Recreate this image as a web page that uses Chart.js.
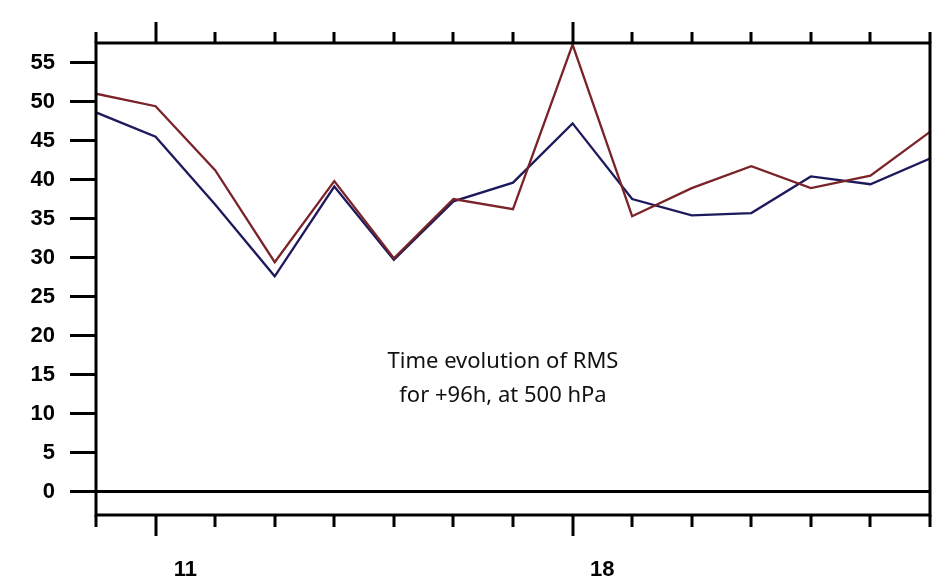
<!DOCTYPE html>
<html>
<head>
<meta charset="utf-8">
<script src="https://cdn.jsdelivr.net/npm/chart.js@4/dist/chart.umd.min.js"></script>
<style>
  html, body { margin: 0; padding: 0; background: #fff; }
  #wrap { width: 933px; height: 577px; }
</style>
</head>
<body>
<div id="wrap"><canvas id="rms"></canvas></div>
<script>
// days on the x axis, one value per day
days = [10, 11, 12, 13, 14, 15, 16, 17, 18, 19, 20, 21, 22, 23, 24]
rmsRed = [51.0, 49.4, 41.2, 29.4, 39.8, 29.9, 37.5, 36.2, 57.3, 35.3, 38.9, 41.7, 38.9, 40.5, 46.1]
rmsBlue = [48.6, 45.5, 36.8, 27.6, 39.1, 29.7, 37.2, 39.6, 47.2, 37.5, 35.4, 35.7, 40.4, 39.4, 42.7]
yTicks = [0, 5, 10, 15, 20, 25, 30, 35, 40, 45, 50, 55]
majorDays = [11, 18]
titleLines = ['Time evolution of RMS', 'for +96h, at 500 hPa']

function toPoints(valores) {
	return days.map(function (d, i) {
		return { x: d, y: valores[i] }
	})
}

// frame, day ticks above and below, and the caption
var framePlugin = {
	id: 'frame',
	afterDraw: function (chart) {
		var ctx = chart.ctx
		var a = chart.chartArea
		var xs = chart.scales.x
		ctx.save()
		ctx.strokeStyle = '#000'
		ctx.lineWidth = 3
		ctx.strokeRect(a.left, a.top, a.right - a.left, a.bottom - a.top)
		days.forEach(function (d) {
			var px = Math.round(xs.getPixelForValue(d))
			var major = majorDays.indexOf(d) >= 0
			ctx.beginPath()
			ctx.moveTo(px, a.top)
			ctx.lineTo(px, a.top - (major ? 21 : 11))
			ctx.moveTo(px, a.bottom)
			ctx.lineTo(px, a.bottom + (major ? 21 : 12))
			ctx.stroke()
		})
		ctx.fillStyle = '#111'
		ctx.font = '22px "Noto Sans", sans-serif'
		ctx.textAlign = 'center'
		ctx.textBaseline = 'alphabetic'
		var cx = a.left + (a.right - a.left) * 0.488
		ctx.fillText(titleLines[0], cx, 368)
		ctx.fillText(titleLines[1], cx, 402)
		ctx.restore()
	}
}

var ctx = document.getElementById('rms').getContext('2d')
new Chart(ctx, {
	type: 'line',
	data: {
		datasets: [
			{
				label: 'red',
				data: toPoints(rmsRed),
				borderColor: '#7a2328',
				borderWidth: 2.3,
				pointRadius: 0,
				tension: 0,
			},
			{
				label: 'blue',
				data: toPoints(rmsBlue),
				borderColor: '#1c1a5c',
				borderWidth: 2.3,
				pointRadius: 0,
				tension: 0,
			},
		],
	},
	options: {
		responsive: true,
		maintainAspectRatio: false,
		animation: false,
		layout: {
			padding: { top: 43, right: 3, left: 0, bottom: 0 },
		},
		plugins: {
			legend: { display: false },
			tooltip: { enabled: false },
		},
		scales: {
			x: {
				type: 'linear',
				min: days[0],
				max: days[days.length - 1],
				afterBuildTicks: function (scale) {
					scale.ticks = majorDays.map(function (d) {
						return { value: d + 0.5 }
					})
				},
				afterFit: function (scale) {
					scale.height = 62
				},
				border: { display: false },
				grid: { display: false, drawTicks: false },
				ticks: {
					padding: 42,
					color: '#000',
					font: { family: 'Liberation Sans', size: 22, weight: 'bold' },
					callback: function (v) {
						return Math.floor(v)
					},
				},
			},
			y: {
				min: -3,
				max: 57.5,
				afterBuildTicks: function (scale) {
					scale.ticks = yTicks.map(function (v) {
						return { value: v }
					})
				},
				afterFit: function (scale) {
					scale.width = 96
				},
				border: { display: false },
				grid: {
					drawOnChartArea: true,
					color: function (c) {
						return c.tick && c.tick.value === 0 ? '#000' : 'rgba(0,0,0,0)'
					},
					lineWidth: 3,
					drawTicks: true,
					tickLength: 26,
					tickColor: '#000',
					tickWidth: 3,
				},
				ticks: {
					padding: 15,
					color: '#000',
					font: { family: 'Liberation Sans', size: 22, weight: 'bold' },
				},
			},
		},
	},
	plugins: [framePlugin],
})
</script>
</body>
</html>
